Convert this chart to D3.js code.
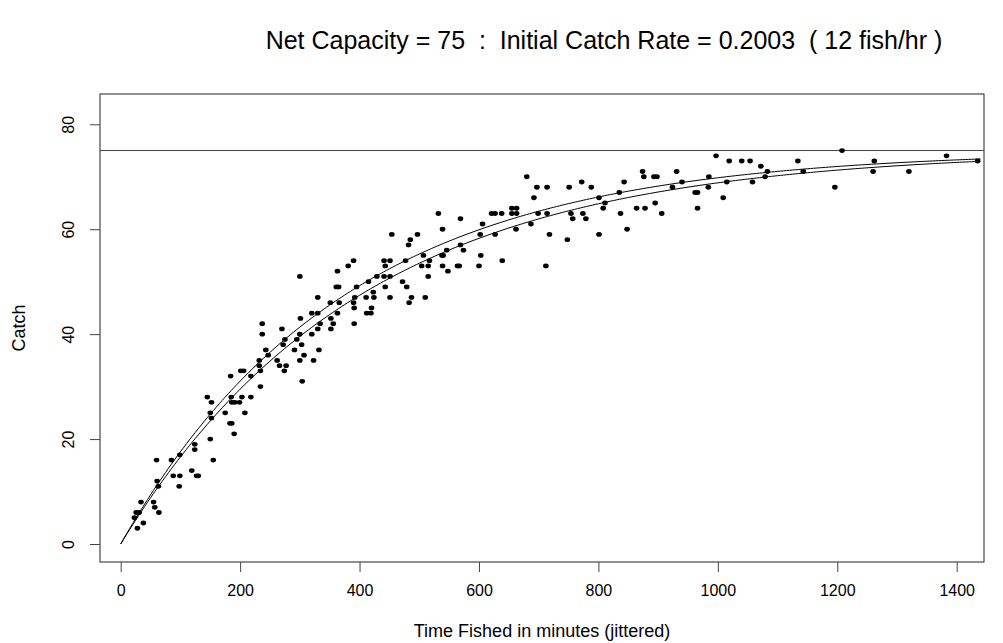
<!DOCTYPE html>
<html>
<head>
<meta charset="utf-8">
<script src="https://cdn.jsdelivr.net/npm/d3@7"></script>
<style>
  body { margin: 0; background: #fff; }
  text { font-family: "Liberation Sans", Arial, Helvetica, sans-serif; }
</style>
</head>
<body>
<svg width="1003" height="643"></svg>
<script>
// model parameters (fish per minute) - upper curve is the one in the title
const netCapacity = 75;
const catchRates = [0.2003, 0.1875];

const xTicks = [0, 200, 400, 600, 800, 1000, 1200, 1400];
const yTicks = [0, 20, 40, 60, 80];

// jittered fishing times (minutes) and catches
const timeFished = [
  23, 26, 28, 31, 34, 38, 55, 57, 60, 61, 63, 64, 85, 88, 98, 99, 99,
  119, 124, 124, 127, 130, 145, 150, 150, 152, 152, 155, 175, 183, 184, 185,
  186, 186, 190, 191, 199, 201, 203, 206, 208, 218, 218, 232, 232, 234, 234,
  237, 237, 243, 247, 262, 266, 270, 272, 274, 275, 277, 291, 295, 300, 300,
  300, 301, 303, 304, 307, 320, 320, 323, 330, 330, 330, 332, 334, 351, 352,
  352, 356, 361, 363, 363, 365, 366, 381, 390, 390, 391, 391, 392, 395, 411,
  412, 415, 419, 420, 423, 424, 429, 441, 441, 443, 443, 451, 451, 451, 454,
  472, 477, 479, 482, 483, 485, 487, 497, 504, 507, 510, 515, 515, 517, 532,
  538, 539, 539, 540, 546, 548, 564, 567, 569, 569, 574, 600, 602, 603, 606,
  621, 627, 627, 638, 639, 655, 655, 662, 663, 663, 680, 687, 692, 697, 699,
  712, 714, 714, 718, 748, 751, 754, 757, 772, 774, 779, 788, 801, 801, 808,
  811, 835, 837, 843, 848, 864, 874, 876, 878, 893, 895, 898, 906, 924, 931,
  940, 962, 966, 966, 984, 985, 997, 1009, 1015, 1019, 1040, 1054, 1058, 1072,
  1079, 1083, 1134, 1143, 1196, 1208, 1260, 1262, 1320, 1383, 1435
];
const catches = [
  5, 6, 3, 6, 8, 4, 8, 7, 16, 12, 11, 6, 16, 13, 11, 17, 13,
  14, 19, 18, 13, 13, 28, 25, 20, 27, 24, 16, 25, 23, 32, 28,
  27, 23, 21, 27, 27, 33, 28, 33, 25, 32, 28, 35, 34, 33, 30,
  42, 40, 37, 36, 35, 34, 41, 38, 33, 39, 34, 37, 39, 51, 40,
  35, 43, 38, 31, 36, 44, 40, 35, 47, 44, 41, 37, 42, 46, 43,
  41, 42, 49, 52, 44, 49, 46, 53, 54, 46, 45, 42, 47, 49, 47,
  44, 50, 44, 45, 48, 47, 51, 54, 51, 53, 49, 54, 51, 47, 59,
  50, 54, 49, 57, 46, 58, 47, 59, 53, 55, 47, 53, 51, 54, 63,
  55, 60, 53, 55, 56, 52, 53, 53, 62, 57, 56, 53, 59, 55, 61,
  63, 63, 59, 63, 54, 64, 63, 60, 64, 63, 70, 61, 66, 68, 63,
  53, 68, 63, 59, 58, 68, 63, 62, 69, 63, 62, 68, 66, 59, 64,
  65, 67, 63, 69, 60, 64, 71, 70, 64, 70, 65, 70, 63, 68, 71,
  69, 67, 67, 64, 68, 70, 74, 66, 69, 73, 73, 73, 69, 72,
  70, 71, 73, 71, 68, 75, 71, 73, 71, 74, 73
];

const svg = d3.select('svg');

const x = d3.scaleLinear().domain([0, 1400]).range([120.7, 956.7]);
const y = d3.scaleLinear().domain([0, 80]).range([544, 124.3]);

const box = { left: 100, right: 984, top: 94, bottom: 562 };

// title
svg.append('text')
  .attr('x', 604)
  .attr('y', 49)
  .attr('text-anchor', 'middle')
  .attr('font-size', 25)
  .attr('xml:space', 'preserve')
  .style('white-space', 'pre')
  .text('Net Capacity = 75  :  Initial Catch Rate = 0.2003  ( 12 fish/hr )');

// plot box
svg.append('rect')
  .attr('x', box.left)
  .attr('y', box.top)
  .attr('width', box.right - box.left)
  .attr('height', box.bottom - box.top)
  .attr('fill', 'none')
  .attr('stroke', '#222')
  .attr('stroke-width', 1);

// x axis
const xAxis = svg.append('g')
  .attr('transform', `translate(0,${box.bottom})`)
  .call(d3.axisBottom(x).tickValues(xTicks).tickSize(10).tickPadding(13).tickFormat(d3.format('d')));
xAxis.select('.domain').remove();
xAxis.selectAll('line').attr('stroke', '#444');
xAxis.selectAll('text').attr('font-size', 16).attr('fill', '#000');

// y axis, labels parallel to the axis
const yAxis = svg.append('g')
  .attr('transform', `translate(${box.left},0)`)
  .call(d3.axisLeft(y).tickValues(yTicks).tickSize(10));
yAxis.select('.domain').remove();
yAxis.selectAll('line').attr('stroke', '#444');
yAxis.selectAll('text')
  .attr('x', null)
  .attr('dy', null)
  .attr('font-size', 16)
  .attr('fill', '#000')
  .attr('text-anchor', 'middle')
  .attr('transform', 'translate(-26.5,0) rotate(-90)');

// axis titles
svg.append('text')
  .attr('x', (box.left + box.right) / 2)
  .attr('y', 637)
  .attr('text-anchor', 'middle')
  .attr('font-size', 18)
  .text('Time Fished in minutes (jittered)');

svg.append('text')
  .attr('transform', `translate(24.5,${(box.top + box.bottom) / 2}) rotate(-90)`)
  .attr('text-anchor', 'middle')
  .attr('font-size', 18)
  .text('Catch');

// capacity line
svg.append('line')
  .attr('x1', box.left)
  .attr('x2', box.right)
  .attr('y1', y(netCapacity))
  .attr('y2', y(netCapacity))
  .attr('stroke', '#444')
  .attr('stroke-width', 1);

// fitted curves
const curveTimes = d3.range(0, 1441, 5);
const line = d3.line().x(d => x(d[0])).y(d => y(d[1]));
catchRates.forEach(rate => {
  const pts = curveTimes.map(t => [t, netCapacity * (1 - Math.exp(-rate * t / netCapacity))]);
  svg.append('path')
    .attr('d', line(pts))
    .attr('fill', 'none')
    .attr('stroke', '#000')
    .attr('stroke-width', 1);
});

// points
svg.append('g')
  .selectAll('ellipse')
  .data(timeFished.map((t, i) => ({ t, c: catches[i] })))
  .enter()
  .append('ellipse')
  .attr('cx', d => x(d.t))
  .attr('cy', d => y(d.c))
  .attr('rx', 2.8)
  .attr('ry', 2.4)
  .attr('fill', '#000');
</script>
</body>
</html>
